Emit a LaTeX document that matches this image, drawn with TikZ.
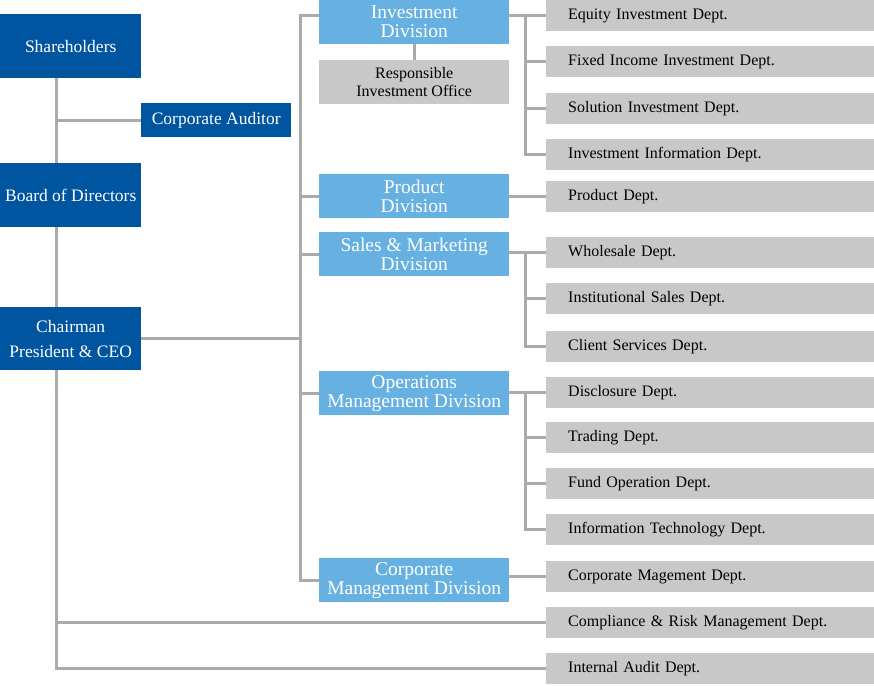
\documentclass[tikz,border=0pt]{standalone}
\usepackage{fontspec}
\setmainfont{Liberation Serif}
\definecolor{navy}{RGB}{0,85,160}
\definecolor{sky}{RGB}{102,176,226}
\definecolor{boxgrey}{RGB}{200,200,200}
\definecolor{linegrey}{RGB}{170,170,170}
\tikzset{
  topbox/.style={fill=navy, text=white, anchor=north west, inner sep=0pt,
    minimum width=141pt, minimum height=64pt, align=center,
    font=\fontsize{17.5}{25}\selectfont},
  divbox/.style={fill=sky, text=white, anchor=north west, inner sep=0pt,
    minimum width=190pt, minimum height=44pt, align=center,
    font=\fontsize{19.5}{19}\selectfont},
  officebox/.style={fill=boxgrey, anchor=north west, inner sep=0pt,
    minimum width=190pt, minimum height=44pt, align=center,
    font=\fontsize{16}{18}\selectfont},
  deptbox/.style={fill=boxgrey, anchor=west, inner ysep=0pt, inner xsep=22pt,
    text width=284pt, minimum height=31pt, align=left,
    font=\fontsize{16}{17}\selectfont},
  link/.style={draw=linegrey, line width=3pt}
}
\begin{document}
\begin{tikzpicture}[x=1pt, y=-1pt]
    \useasboundingbox (0,0) rectangle (874,685);
    % junction lines
    \coordinate (trunk) at (56,0);
    \coordinate (spine) at (300,0);
    \coordinate (bus) at (525,0);

    % board side
    \node[topbox] (share) at (0,14) {Shareholders};
    \node[topbox, minimum width=150pt, minimum height=34pt] (auditor) at (141,103) {Corporate Auditor};
    \node[topbox] (board) at (0,163) {Board of Directors};
    \node[topbox, minimum height=63pt] (chair) at (0,307) {Chairman\\President \& CEO};

    % divisions
    \node[divbox] (invdiv) at (319,0) {Investment\\Division};
    \node[officebox] (respinv) at (319,60) {Responsible\\Investment Office};
    \node[divbox] (proddiv) at (319,174) {Product\\Division};
    \node[divbox] (salesdiv) at (319,232) {Sales \& Marketing\\Division};
    \node[divbox] (opsdiv) at (319,371) {Operations\\Management Division};
    \node[divbox] (corpdiv) at (319,558) {Corporate\\Management Division};

    % departments
    \node[deptbox] (equity) at (546,15.5) {Equity Investment Dept.};
    \node[deptbox] (fixed) at (546,61.5) {Fixed Income Investment Dept.};
    \node[deptbox] (solution) at (546,108.5) {Solution Investment Dept.};
    \node[deptbox] (invinfo) at (546,154.5) {Investment Information Dept.};
    \node[deptbox] (product) at (546,196.5) {Product Dept.};
    \node[deptbox] (wholesale) at (546,252.5) {Wholesale Dept.};
    \node[deptbox] (institut) at (546,298.5) {Institutional Sales Dept.};
    \node[deptbox] (client) at (546,346.5) {Client Services Dept.};
    \node[deptbox] (disclose) at (546,392.5) {Disclosure Dept.};
    \node[deptbox] (trading) at (546,437.5) {Trading Dept.};
    \node[deptbox] (fundop) at (546,483.5) {Fund Operation Dept.};
    \node[deptbox] (infotech) at (546,529.5) {Information Technology Dept.};
    \node[deptbox] (corpmgmt) at (546,576.5) {Corporate Magement Dept.};
    \node[deptbox] (compl) at (546,622.5) {Compliance \& Risk Management Dept.};
    \node[deptbox] (intaudit) at (546,668.5) {Internal Audit Dept.};

    % left trunk
    \draw[link] (trunk |- share.south) -- (trunk |- board.north);
    \draw[link] (trunk |- board.south) -- (trunk |- chair.north);
    \draw[link] (trunk |- chair.south) -- (trunk |- intaudit.west) -- (intaudit.west);
    \draw[link] (trunk |- auditor.west) -- (auditor.west);
    \draw[link] (trunk |- compl.west) -- (compl.west);

    % spine to divisions
    \draw[link] (chair.east) -- (spine |- chair.east);
    \draw[link] (invdiv.west |- equity.west) -- (spine |- equity.west)
        -- (spine |- corpdiv.west) -- (corpdiv.west);
    \draw[link] (spine |- proddiv.west) -- (proddiv.west);
    \draw[link] (spine |- salesdiv.west) -- (salesdiv.west);
    \draw[link] (spine |- opsdiv.west) -- (opsdiv.west);
    \draw[link] (invdiv.south -| respinv.north) -- (respinv.north);

    % divisions to departments
    \draw[link] (invdiv.east |- equity.west) -- (equity.west);
    \draw[link] (bus |- equity.west) -- (bus |- invinfo.west) -- (invinfo.west);
    \draw[link] (bus |- fixed.west) -- (fixed.west);
    \draw[link] (bus |- solution.west) -- (solution.west);
    \draw[link] (proddiv.east |- product.west) -- (product.west);
    \draw[link] (salesdiv.east |- wholesale.west) -- (wholesale.west);
    \draw[link] (bus |- wholesale.west) -- (bus |- client.west) -- (client.west);
    \draw[link] (bus |- institut.west) -- (institut.west);
    \draw[link] (opsdiv.east |- disclose.west) -- (disclose.west);
    \draw[link] (bus |- disclose.west) -- (bus |- infotech.west) -- (infotech.west);
    \draw[link] (bus |- trading.west) -- (trading.west);
    \draw[link] (bus |- fundop.west) -- (fundop.west);
    \draw[link] (corpdiv.east |- corpmgmt.west) -- (corpmgmt.west);
\end{tikzpicture}
\end{document}
